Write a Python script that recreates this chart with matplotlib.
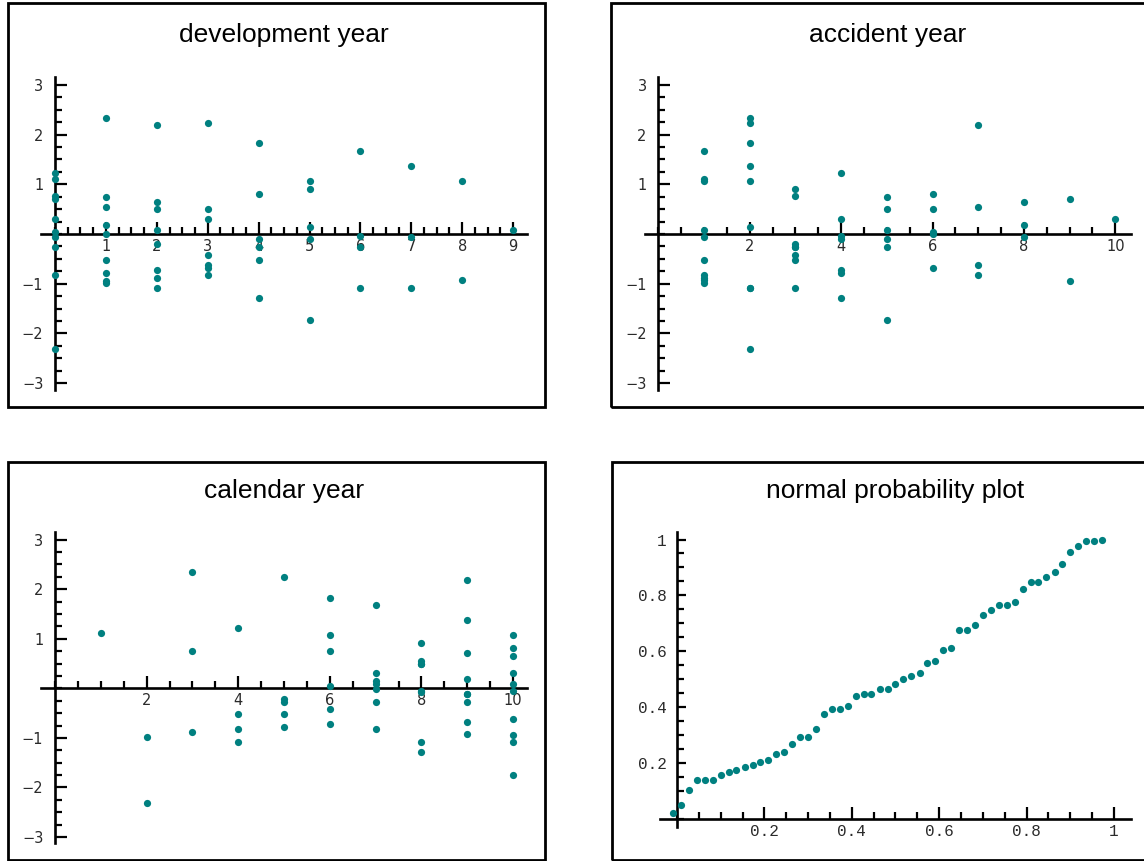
import numpy as np
import matplotlib
matplotlib.use("Agg")
import matplotlib.pyplot as plt
from matplotlib.patches import Rectangle
from matplotlib.ticker import FixedLocator, FuncFormatter

W, H = 1144, 861
TEAL = "#008080"

# standardised residuals of the run-off triangle, one list per accident year
# (position in each list = development year, starting at 0)
ay1 = [1.11, -0.98, -0.89, -0.83, -0.52, 1.07, 1.68, -0.06, -0.93, 0.09]
ay2 = [-2.32, 2.34, -1.09, 2.24, 1.83, 0.15, -1.09, 1.37, 1.07]
ay3 = [0.76, -0.52, -0.21, -0.42, -0.27, 0.91, -0.27, -1.09]
ay4 = [1.22, -0.78, -0.72, 0.30, -1.29, -0.11, -0.05]
ay5 = [-0.27, 0.75, 0.09, 0.50, -0.11, -1.74]
ay6 = [0.05, -0.01, 0.50, -0.68, 0.81]
ay7 = [-0.83, 0.55, 2.19, -0.62]
ay8 = [-0.07, 0.19, 0.65]
ay9 = [0.71, -0.94]
ay10 = [0.30]
triangle = [ay1, ay2, ay3, ay4, ay5, ay6, ay7, ay8, ay9, ay10]

# normal probability plot: plotting position vs fitted cdf of sorted residual
npp_p = [-0.009, 0.009, 0.027, 0.045, 0.064, 0.082, 0.100, 0.118, 0.136, 0.155,
         0.173, 0.191, 0.209, 0.227, 0.245, 0.264, 0.282, 0.300, 0.318, 0.336,
         0.355, 0.373, 0.391, 0.409, 0.427, 0.445, 0.464, 0.482, 0.500, 0.518,
         0.536, 0.555, 0.573, 0.591, 0.609, 0.627, 0.645, 0.664, 0.682, 0.700,
         0.718, 0.736, 0.755, 0.773, 0.791, 0.809, 0.827, 0.845, 0.864, 0.882,
         0.900, 0.918, 0.936, 0.955, 0.973]
npp_q = [0.021, 0.048, 0.102, 0.139, 0.139, 0.139, 0.157, 0.167, 0.176, 0.185,
         0.193, 0.202, 0.212, 0.230, 0.239, 0.266, 0.293, 0.293, 0.320, 0.375,
         0.393, 0.393, 0.403, 0.439, 0.448, 0.448, 0.466, 0.466, 0.484, 0.502,
         0.512, 0.521, 0.557, 0.566, 0.603, 0.612, 0.675, 0.675, 0.694, 0.730,
         0.748, 0.766, 0.766, 0.775, 0.821, 0.848, 0.848, 0.866, 0.884, 0.911,
         0.957, 0.976, 0.994, 0.994, 0.998]

# residuals laid out by development / accident / calendar year
dev_x, acc_x, cal_x, res = [], [], [], []
for i, row in enumerate(triangle):
    for j, r in enumerate(row):
        dev_x.append(j)
        acc_x.append(i + 1)
        cal_x.append(i + 1 + j)
        res.append(r)


def frame(fig, l, t, r, b):
    fig.add_artist(Rectangle((l / W, 1 - b / H), (r - l) / W, (b - t) / H,
                             transform=fig.transFigure, fill=False,
                             lw=2.0, ec="black", zorder=0))


def panel(fig, area, origin, scale, title, title_y,
          xmajor, xminor, ymajor, yminor, mono=False):
    l, t, r, b = area
    ax = fig.add_axes([l / W, 1 - b / H, (r - l) / W, (b - t) / H])
    ax.set_facecolor("none")
    ax.set_xlim((l - origin[0]) / scale[0], (r - origin[0]) / scale[0])
    ax.set_ylim((origin[1] - b) / scale[1], (origin[1] - t) / scale[1])
    for s in ("top", "right"):
        ax.spines[s].set_visible(False)
    for s in ("left", "bottom"):
        ax.spines[s].set_position(("data", 0))
        ax.spines[s].set_linewidth(1.9)
    ax.xaxis.set_major_locator(FixedLocator(xmajor))
    ax.xaxis.set_minor_locator(FixedLocator(xminor))
    ax.yaxis.set_major_locator(FixedLocator(ymajor))
    ax.yaxis.set_minor_locator(FixedLocator(yminor))
    ax.tick_params(which="major", direction="in", length=8.5, width=1.6)
    ax.tick_params(which="minor", direction="in", length=5, width=1.6)
    if mono:
        fmt = FuncFormatter(lambda v, _: f"{v:g}")
        ax.xaxis.set_major_formatter(fmt)
        ax.yaxis.set_major_formatter(fmt)
        ax.tick_params(axis="y", which="major", length=6.5)
        ax.tick_params(labelsize=11.5, labelcolor="#2a2a2a")
        for lab in ax.get_xticklabels() + ax.get_yticklabels():
            lab.set_family("Liberation Mono")
        ax.tick_params(axis="x", pad=4)
        ax.tick_params(axis="y", pad=7.4)
    else:
        ax.tick_params(labelsize=10.5, labelcolor="#2a2a2a")
        ax.tick_params(axis="x", pad=3.5)
        ax.tick_params(axis="y", pad=8.4)
    fig.text((l + r) / 2 / W, 1 - title_y / H, title, ha="center",
             va="baseline", fontsize=19, family="Liberation Sans")
    return ax


fig = plt.figure(figsize=(W / 100, H / 100), dpi=100)

frame(fig, 8, 3, 545, 407)
frame(fig, 611, 3, 1160, 407)
frame(fig, 8, 462, 545, 860)
frame(fig, 612, 462, 1160, 860)

y_major = [-3, -2, -1, 1, 2, 3]
y_minor = list(np.arange(-3, 3.01, 0.25))
dot = dict(marker="o", ls="none", ms=5.2, color=TEAL, mec="none",
           zorder=3, clip_on=False)

ax1 = panel(fig, (40.7, 76.7, 526.7, 390), (55, 234), (50.9, 49.7),
            "development year", 42,
            list(range(1, 10)), list(np.arange(0, 9.01, 0.25)), y_major, y_minor)
ax1.plot(dev_x, res, **dot)

ax2 = panel(fig, (645, 76.7, 1131, 390), (658.3, 234), (45.7, 49.7),
            "accident year", 42,
            [2, 4, 6, 8, 10], list(np.arange(0, 10.01, 0.5)), y_major, y_minor)
ax2.plot(acc_x, res, **dot)

ax3 = panel(fig, (40.7, 531.7, 527.3, 843.3), (55, 688.3), (45.8, 49.6),
            "calendar year", 498,
            [2, 4, 6, 8, 10], list(np.arange(0, 10.01, 0.5)), y_major, y_minor)
ax3.plot(cal_x, res, **dot)

ax4 = panel(fig, (660, 531.7, 1131, 826.7), (677, 818.7), (437, 279.2),
            "normal probability plot", 498,
            [0.2, 0.4, 0.6, 0.8, 1.0], list(np.arange(0, 1.001, 0.05)),
            [0.2, 0.4, 0.6, 0.8, 1.0], list(np.arange(0, 1.001, 0.05)), mono=True)
ax4.plot(npp_p, npp_q, **dot)

fig.savefig("out.png", dpi=100)
